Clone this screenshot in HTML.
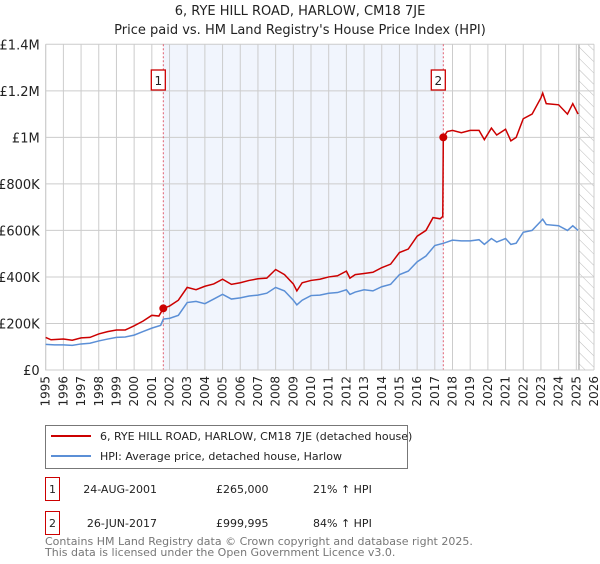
<!DOCTYPE html>
<html><head><meta charset="utf-8"><style>
body{margin:0;background:#fff;width:600px;height:560px;overflow:hidden;font-family:"DejaVu Sans","Liberation Sans",sans-serif}
svg text{font-family:"DejaVu Sans","Liberation Sans",sans-serif}
</style></head><body>
<svg id="c" width="600" height="560" xmlns="http://www.w3.org/2000/svg">
<defs><pattern id="hatch" width="8" height="8" patternUnits="userSpaceOnUse" patternTransform="rotate(-45)"><line x1="0" y1="0" x2="0" y2="8" stroke="#bbb" stroke-width="1"/></pattern></defs>
<text x="300" y="15" text-anchor="middle" font-size="13" fill="#222">6, RYE HILL ROAD, HARLOW, CM18 7JE</text>
<text x="300" y="34" text-anchor="middle" font-size="13" fill="#222">Price paid vs. HM Land Registry's House Price Index (HPI)</text>
<g id="plot"></g>
<g>
<rect x="45.5" y="425.5" width="362" height="43" fill="#fff" stroke="#777"/>
<line x1="51" y1="436" x2="91" y2="436" stroke="#cc0000" stroke-width="2"/>
<text x="100" y="440" font-size="11" fill="#222">6, RYE HILL ROAD, HARLOW, CM18 7JE (detached house)</text>
<line x1="51" y1="456" x2="91" y2="456" stroke="#5b8fd6" stroke-width="2"/>
<text x="100" y="460" font-size="11" fill="#222">HPI: Average price, detached house, Harlow</text>
</g>
<g font-size="11" fill="#222">
<rect x="45.5" y="477.5" width="14" height="23" fill="#fff" stroke="#cc0000"/>
<text x="52.5" y="493" text-anchor="middle">1</text>
<text x="157" y="493" text-anchor="end">24-AUG-2001</text>
<text x="216" y="493">£265,000</text>
<text x="313" y="493">21% ↑ HPI</text>
</g>
<g font-size="11" fill="#222">
<rect x="45.5" y="511.5" width="14" height="23" fill="#fff" stroke="#cc0000"/>
<text x="52.5" y="527" text-anchor="middle">2</text>
<text x="157" y="527" text-anchor="end">26-JUN-2017</text>
<text x="216" y="527">£999,995</text>
<text x="313" y="527">84% ↑ HPI</text>
</g>
<text x="45" y="545" font-size="11" fill="#777">Contains HM Land Registry data © Crown copyright and database right 2025.</text>
<text x="45" y="556" font-size="11" fill="#777">This data is licensed under the Open Government Licence v3.0.</text>
</svg>
<script>
const yTicks=[0,200000,400000,600000,800000,1000000,1200000,1400000];
const yTickLabels=["£0","£200K","£400K","£600K","£800K","£1M","£1.2M","£1.4M"];
const years=[1995,1996,1997,1998,1999,2000,2001,2002,2003,2004,2005,2006,2007,2008,2009,2010,2011,2012,2013,2014,2015,2016,2017,2018,2019,2020,2021,2022,2023,2024,2025,2026];
const hpiDates=[1995,1995.5,1996,1996.5,1997,1997.5,1998,1998.5,1999,1999.5,2000,2000.5,2001,2001.5,2001.65,2002,2002.5,2003,2003.5,2004,2004.5,2005,2005.5,2006,2006.5,2007,2007.5,2008,2008.5,2009,2009.2,2009.5,2010,2010.5,2011,2011.5,2012,2012.2,2012.5,2013,2013.5,2014,2014.5,2015,2015.5,2016,2016.5,2017,2017.5,2018,2018.5,2019,2019.5,2019.8,2020.2,2020.5,2021,2021.3,2021.6,2022,2022.5,2023,2023.1,2023.3,2024,2024.5,2024.8,2025.1];
const hpiValues=[110,108,108,106,112,115,125,133,140,142,150,165,180,192,219,222,235,290,295,285,305,325,305,310,318,322,330,355,340,300,280,300,320,322,330,333,345,325,335,345,340,358,368,410,425,465,490,535,545,558,555,555,560,540,565,550,565,540,545,592,600,640,648,625,620,600,620,600];
const propDates=[1995,1995.3,1996,1996.5,1997,1997.5,1998,1998.5,1999,1999.5,2000,2000.5,2001,2001.4,2001.65,2002,2002.5,2003,2003.5,2004,2004.5,2005,2005.5,2006,2006.5,2007,2007.5,2008,2008.5,2009,2009.2,2009.5,2010,2010.5,2011,2011.5,2012,2012.2,2012.5,2013,2013.5,2014,2014.5,2015,2015.5,2016,2016.5,2016.9,2017.3,2017.45,2017.48,2017.7,2018,2018.5,2019,2019.5,2019.8,2020.2,2020.5,2021,2021.3,2021.6,2022,2022.5,2023,2023.1,2023.3,2024,2024.5,2024.8,2025.1];
const propValues=[140,130,133,128,138,140,155,165,172,172,190,210,235,232,265,275,300,355,345,360,370,390,368,375,385,392,395,432,410,370,340,375,385,390,400,405,425,395,410,415,420,440,455,505,520,575,600,655,650,660,1000,1025,1030,1020,1030,1030,990,1040,1010,1035,985,1000,1080,1100,1170,1190,1145,1140,1100,1145,1100];
const saleDates=[2001.65,2017.48];
const salePrices=[265000,999995];
const saleLabels=["1","2"];

const X0=45.7,X1=594,Y0=370,Y1=44.3;
const x=t=>X0+(t-1995)/(2026-1995)*(X1-X0);
const y=v=>Y0-v/1400000*(Y0-Y1);
const NS="http://www.w3.org/2000/svg";
const g=document.getElementById('plot');
function mk(tag,attrs,parent){const e=document.createElementNS(NS,tag);for(const k in attrs)e.setAttribute(k,attrs[k]);(parent||g).appendChild(e);return e;}

const shade=mk('rect',{x:x(saleDates[0]),y:Y1,width:x(saleDates[1])-x(saleDates[0]),height:Y0-Y1,fill:'#eef3fc',opacity:0.8});


const hatch=mk('rect',{x:x(2025.15),y:Y1,width:X1-x(2025.15),height:Y0-Y1,fill:'url(#hatch)'});


mk('line',{x1:x(2025.15),x2:x(2025.15),y1:Y1,y2:Y0,stroke:'#999','stroke-width':1});

years.forEach(yr=>{
  const l=mk('line',{x1:x(yr),x2:x(yr),y1:Y1,y2:Y0,stroke:'#ccc','stroke-width':1});
  
  
  const t=mk('text',{transform:`translate(${x(yr)+4},${Y0+6}) rotate(-90)`,'text-anchor':'end','font-size':12,fill:'#222'});
  t.textContent=yr;
  
  
});
yTicks.forEach((v,i)=>{
  const l=mk('line',{x1:X0,x2:X1,y1:y(v),y2:y(v),stroke:'#ccc','stroke-width':1});
  
  
  const t=mk('text',{x:X0-6,y:y(v)+5,'text-anchor':'end','font-size':13,fill:'#222'});
  t.textContent=yTickLabels[i];
  
  
});
saleDates.forEach((d,i)=>{
  const l=mk('line',{x1:x(d),x2:x(d),y1:Y1,y2:Y0,stroke:'#e06070','stroke-width':1,'stroke-dasharray':'2,2'});
  
  
  const b=mk('rect',{x:x(d)-12,y:70,width:14,height:20,fill:'#fff',stroke:'#cc0000','stroke-width':1.3});
  
  
  const t=mk('text',{x:x(d)-5,y:85,'text-anchor':'middle','font-size':12,fill:'#222'});
  t.textContent=saleLabels[i];
  
  
});
const axis=mk('path',{d:`M${X0},${Y1}V${Y0}H${X1}`,fill:'none',stroke:'#ccc'});
const hp=mk('polyline',{points:hpiDates.map((d,i)=>x(d)+','+y(hpiValues[i]*1000)).join(' '),fill:'none',stroke:'#5b8fd6','stroke-width':1.5});


const pp=mk('polyline',{points:propDates.map((d,i)=>x(d)+','+y(propValues[i]*1000)).join(' '),fill:'none',stroke:'#cc0000','stroke-width':1.5});


saleDates.forEach((d,i)=>{
  const c=mk('circle',{cx:x(d),cy:y(salePrices[i]),r:4,fill:'#cc0000'});
  
  
});
</script>
</body></html>
